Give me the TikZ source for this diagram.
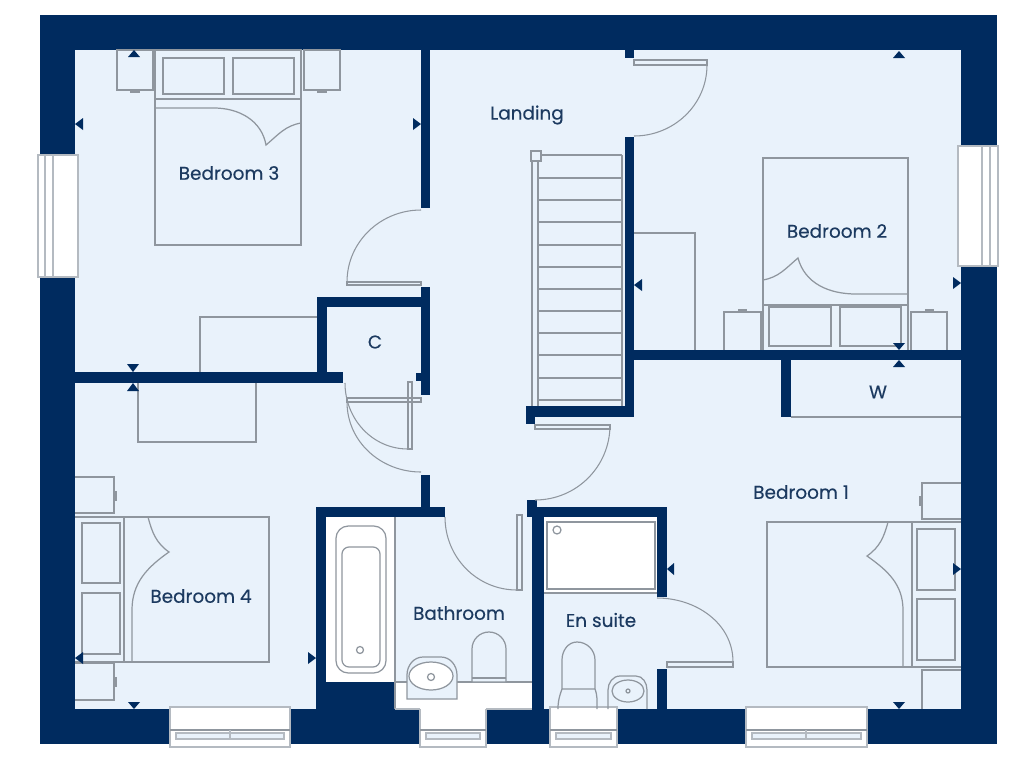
\documentclass[tikz,border=0pt]{standalone}
\usepackage{fontspec}
\setmainfont{Poppins}
\newfontfamily\roomfont[FakeBold=0.3]{Poppins}
\definecolor{wallblue}{HTML}{002B5F}
\definecolor{floorblue}{HTML}{E9F2FB}
\definecolor{fitgrey}{HTML}{8F969E}
\definecolor{glassgrey}{HTML}{B4BAC1}
\definecolor{labelblue}{HTML}{1C3A60}
\tikzset{
  wall/.style={fill=wallblue},
  fitting/.style={draw=fitgrey,line width=0.7pt},
  sanitary/.style={draw=fitgrey,line width=0.7pt,fill=white},
  glazing/.style={draw=glassgrey,line width=0.7pt},
  door/.style={draw=fitgrey,line width=0.6pt},
  label/.style={text=labelblue,font=\roomfont\fontsize{10.5}{12}\selectfont},
}
\begin{document}
\begin{tikzpicture}[x=0.02cm,y=-0.02cm]
    \useasboundingbox (0,0) rectangle (1024,768);
    % shell
    \fill[wall] (40,15) rectangle (997,744);
    \fill[floorblue] (75,50) rectangle (961,709);
    % inner walls
    \fill[wall] (421,50) rectangle (430,208);
    \fill[wall] (421,287) rectangle (430,395);
    \fill[wall] (416,373) rectangle (421,381);
    \fill[wall] (317,297) rectangle (430,307);
    \fill[wall] (317,297) rectangle (327,383);
    \fill[wall] (75,372) rectangle (343,383);
    \fill[wall] (421,475) rectangle (430,507);
    \fill[wall] (316,507) rectangle (445,517);
    \fill[wall] (316,507) rectangle (326,709);
    \fill[wall] (316,682) rectangle (395,709);
    \fill[wall] (527,500) rectangle (537,517);
    \fill[wall] (527,507) rectangle (667,517);
    \fill[wall] (532,507) rectangle (544,709);
    \fill[wall] (657,507) rectangle (667,597);
    \fill[wall] (657,669) rectangle (667,709);
    \fill[wall] (625,50) rectangle (634,58);
    \fill[wall] (625,137) rectangle (634,417);
    \fill[wall] (526,406) rectangle (634,417);
    \fill[wall] (526,417) rectangle (535,424);
    \fill[wall] (634,350) rectangle (961,360);
    \fill[wall] (781,360) rectangle (791,417);
    \draw[fitting] (791,417) -- (961,417);
    % windows
    \draw[glazing,fill=white] (38,155) rectangle (78,277);
    \draw[glazing] (45,155) -- (45,277);
    \draw[glazing] (53,155) -- (53,277);
    \draw[glazing,fill=white] (958,146) rectangle (998,266);
    \draw[glazing] (982,146) -- (982,266);
    \draw[glazing] (990,146) -- (990,266);
    \draw[glazing,fill=white] (170,707) rectangle (290,747);
    \draw[fitting] (170,730) -- (290,730);
    \draw[glazing,fill=floorblue] (176,733) rectangle (284,739);
    \draw[glazing] (230,730) -- (230,739);
    \draw[glazing,fill=white] (420,707) rectangle (486,747);
    \draw[fitting] (420,730) -- (486,730);
    \draw[glazing,fill=floorblue] (426,733) rectangle (480,739);
    \draw[glazing,fill=white] (550,707) rectangle (617,747);
    \draw[fitting] (550,730) -- (617,730);
    \draw[glazing,fill=floorblue] (556,733) rectangle (611,739);
    \draw[glazing,fill=white] (746,707) rectangle (867,747);
    \draw[fitting] (746,730) -- (867,730);
    \draw[glazing,fill=floorblue] (752,733) rectangle (861,739);
    \draw[glazing] (806,730) -- (806,739);
    % doors
    \draw[door,fill=floorblue] (347,282) rectangle (421,285);
    \draw[door] (347,282) to[out=90,in=180] (421,210);
    \draw[door,fill=floorblue] (634,60) rectangle (707,65);
    \draw[door] (707,65) to[out=-90,in=0] (634,136);
    \draw[door] (347,398) rectangle (421,402);
    \draw[door] (347,402) to[out=-90,in=180] (421,472);
    \draw[door] (408,382) rectangle (412,449);
    \draw[door] (345,383) to[out=-90,in=180] (408,449);
    \draw[door] (517,515) rectangle (522,590);
    \draw[door] (445,517) to[out=-90,in=180] (517,590);
    \draw[door] (535,425) rectangle (610,429);
    \draw[door] (610,425) to[out=-90,in=0] (535,500);
    \draw[door] (667,662) rectangle (733,667);
    \draw[door] (733,662) to[out=90,in=0] (657,598);
    % stairs
    \draw[fitting] (532,161) -- (532,406);
    \draw[fitting] (538,161) -- (538,406);
    \draw[fitting] (622,155) -- (622,406);
    \draw[fitting,fill=floorblue] (531,151) rectangle (541,161);
    \draw[fitting] (541,155) -- (622,155);
    \draw[fitting] (538,178) -- (622,178);
    \draw[fitting] (538,200) -- (622,200);
    \draw[fitting] (538,222) -- (622,222);
    \draw[fitting] (538,245) -- (622,245);
    \draw[fitting] (538,267) -- (622,267);
    \draw[fitting] (538,289) -- (622,289);
    \draw[fitting] (538,311) -- (622,311);
    \draw[fitting] (538,333) -- (622,333);
    \draw[fitting] (538,355) -- (622,355);
    \draw[fitting] (538,378) -- (622,378);
    \draw[fitting] (538,400) -- (622,400);
    % bedroom 3
    \draw[fitting] (155,50) rectangle (301,245);
    \draw[fitting] (155,99) -- (301,99);
    \draw[fitting] (155,108) -- (214,108) to[out=0,in=100] (266,145) to[out=40,in=190] (301,123);
    \draw[fitting] (163,58) rectangle (224,94);
    \draw[fitting] (233,58) rectangle (294,94);
    \draw[fitting] (117,50) rectangle (153,90);
    \draw[fitting] (304,50) rectangle (340,90);
    \draw[fitting] (131,90) rectangle (139,92);
    \draw[fitting] (318,90) rectangle (326,92);
    \draw[fitting] (200,372) -- (200,317) -- (317,317);
    % bedroom 2
    \draw[fitting] (763,350) -- (763,158) -- (908,158) -- (908,350);
    \draw[fitting] (763,305) -- (908,305);
    \draw[fitting] (908,294) -- (856,294) to[out=180,in=-75] (798,258) to[out=-140,in=10] (763,280);
    \draw[fitting] (769,307) rectangle (831,346);
    \draw[fitting] (840,307) rectangle (901,346);
    \draw[fitting] (724,350) -- (724,312) -- (761,312) -- (761,350);
    \draw[fitting] (911,350) -- (911,312) -- (947,312) -- (947,350);
    \draw[fitting] (739,310) rectangle (746,312);
    \draw[fitting] (926,310) rectangle (933,312);
    \draw[fitting] (634,233) -- (695,233) -- (695,350);
    % bedroom 4
    \draw[fitting] (75,517) -- (269,517) -- (269,662) -- (75,662);
    \draw[fitting] (124,517) -- (124,662);
    \draw[fitting] (132,662) -- (132,610) to[out=90,in=-145] (169,552) to[out=145,in=-75] (148,517);
    \draw[fitting] (82,523) rectangle (120,583);
    \draw[fitting] (82,593) rectangle (120,654);
    \draw[fitting] (75,477) -- (114,477) -- (114,513) -- (75,513);
    \draw[fitting] (75,663) -- (114,663) -- (114,700) -- (75,700);
    \draw[fitting] (114,492) rectangle (116,500);
    \draw[fitting] (114,678) rectangle (116,686);
    \draw[fitting] (138,383) -- (138,442) -- (256,442) -- (256,383);
    % bathroom
    \fill[white] (326,517) rectangle (395,682);
    \fill[white] (395,682) rectangle (532,709);
    \draw[fitting] (395,517) -- (395,709);
    \draw[fitting] (395,682) -- (532,682);
    \draw[glazing] (395,709) -- (420,709);
    \draw[glazing] (486,709) -- (532,709);
    \draw[fitting,rounded corners=7pt] (336,526) rectangle (386,673);
    \draw[fitting,rounded corners=4pt] (342,547) rectangle (380,667);
    \draw[fitting] (360,650) circle (3.5);
    \draw[fitting,fill=floorblue] (407,699) -- (407,675) to[out=90,in=180] (423,657) -- (441,657) to[out=0,in=90] (457,675) -- (457,699) -- cycle;
    \draw[fitting,fill=white] (431,676) ellipse (22 and 14);
    \draw[fitting] (431,677) circle (3.5);
    \draw[fitting,fill=floorblue] (472,682) -- (472,649) to[out=90,in=180] (489,632) to[out=0,in=90] (506,649) -- (506,682) -- cycle;
    \draw[fitting] (472,678) -- (506,678);
    % en suite
    \fill[white] (544,517) rectangle (657,593);
    \draw[fitting] (547,522) rectangle (655,589);
    \draw[fitting] (544,593) -- (657,593);
    \draw[fitting] (557,530) circle (4);
    \draw[fitting] (562,689) -- (562,660) to[out=90,in=180] (577,642) to[out=0,in=90] (595,660) -- (595,689) -- cycle;
    \draw[fitting] (562,689) to[out=-110,in=90] (558,709);
    \draw[fitting] (595,689) to[out=-70,in=90] (597,709);
    \draw[fitting] (608,709) -- (608,690) to[out=90,in=180] (620,676) -- (636,676) to[out=0,in=90] (647,690) -- (647,709);
    \draw[fitting] (628,691) ellipse (16 and 11);
    \draw[fitting] (628,691) circle (2);
    % bedroom 1
    \draw[fitting] (961,522) -- (767,522) -- (767,667) -- (961,667);
    \draw[fitting] (912,522) -- (912,667);
    \draw[fitting] (903,667) -- (903,610) to[out=90,in=-35] (867,556) to[out=35,in=-105] (888,522);
    \draw[fitting] (917,529) rectangle (955,590);
    \draw[fitting] (917,599) rectangle (955,660);
    \draw[fitting] (961,483) -- (922,483) -- (922,519) -- (961,519);
    \draw[fitting] (961,670) -- (922,670) -- (922,709);
    \draw[fitting] (920,497) rectangle (922,505);
    % level marks
    \fill[wall] (128,57) -- (134,50) -- (140,57) -- cycle;
    \fill[wall] (893,58) -- (899,51) -- (905,58) -- cycle;
    \fill[wall] (893,367) -- (899,360) -- (905,367) -- cycle;
    \fill[wall] (127,391) -- (133,383) -- (139,391) -- cycle;
    \fill[wall] (127,364) -- (133,372) -- (139,364) -- cycle;
    \fill[wall] (893,343) -- (899,350) -- (905,343) -- cycle;
    \fill[wall] (128,702) -- (134,709) -- (140,702) -- cycle;
    \fill[wall] (893,702) -- (899,709) -- (905,702) -- cycle;
    \fill[wall] (83,118) -- (75,124) -- (83,130) -- cycle;
    \fill[wall] (642,279) -- (634,285) -- (642,291) -- cycle;
    \fill[wall] (83,652) -- (75,658) -- (83,664) -- cycle;
    \fill[wall] (674,563) -- (667,569) -- (674,575) -- cycle;
    \fill[wall] (413,118) -- (421,124) -- (413,130) -- cycle;
    \fill[wall] (953,277) -- (961,283) -- (953,289) -- cycle;
    \fill[wall] (308,652) -- (316,658) -- (308,664) -- cycle;
    \fill[wall] (953,563) -- (961,569) -- (953,575) -- cycle;
    % room names
    \node[label] (bedthree) at (229,173) {Bedroom 3};
    \node[label] (landing) at (527,115) {Landing};
    \node[label] (bedtwo) at (837,231) {Bedroom 2};
    \node[label] (cupboard) at (375,342) {C};
    \node[label] (wardrobe) at (878,392) {W};
    \node[label] (bedone) at (801,492) {Bedroom 1};
    \node[label] (bedfour) at (201,596) {Bedroom 4};
    \node[label] (bathroom) at (459,613) {Bathroom};
    \node[label] (ensuite) at (601,620) {En suite};
\end{tikzpicture}
\end{document}
